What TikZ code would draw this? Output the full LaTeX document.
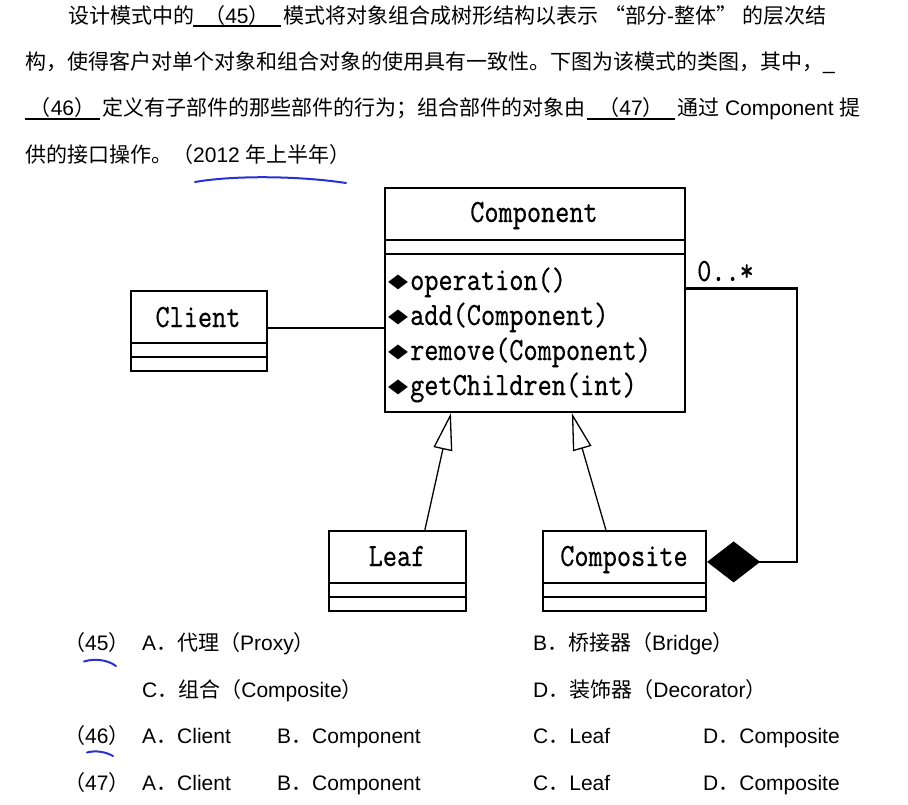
\documentclass[tikz,border=0pt]{standalone}
\usepackage{fontspec}
\setmainfont{Liberation Sans}
\newfontfamily\cjk{Noto Sans CJK SC}
\newfontfamily\diag{lmmono10-regular}[Extension=.otf, FakeStretch=0.83, FakeBold=0.3]
\newfontfamily\dvfont{DejaVu Sans}
\usetikzlibrary{arrows.meta,calc}
\newcommand\zh[1]{{\cjk #1}}
\newcommand\dmd{\makebox[22pt][l]{\raisebox{2.5pt}{\dvfont\fontsize{26}{26}\selectfont\scalebox{1.0}[0.75]{◆}}}}
\definecolor{penblue}{RGB}{40,50,210}
\begin{document}
\begin{tikzpicture}[x=1pt,y=-1pt,
  txt/.style={anchor=base west, inner sep=0pt, font=\fontsize{21}{25}\selectfont},
  ctxt/.style={txt, anchor=base},
  ul/.style={line width=1.4pt},
  cls/.style={draw, line width=2.2pt, inner sep=0pt, minimum width=#1, minimum height=80pt},
  div/.style={line width=2pt},
  uml/.style={anchor=base, inner sep=0pt, font=\diag\fontsize{32.5}{35}\selectfont},
  meth/.style={uml, anchor=base west},
  gen/.style={line width=1.3pt, -{Triangle[open, length=37pt, width=19pt]}},
  assoc/.style={line width=2pt},
  agg/.style={line width=2.2pt, -{Diamond[length=53pt, width=41pt]}},
  penmark/.style={draw=penblue, line width=2pt, line cap=round}
]
\useasboundingbox (0,0) rectangle (908,804);
\fill[white] (0,0) rectangle (908,804);

% ---------- question text ----------
\node[txt] (l1a) at (68,23) {\zh{设计模式中的}};
\node[ctxt] (b45) at (237,23) {\zh{（}45\zh{）}};
\draw[ul] (193,26) -- (281,26);
\node[txt] (l1b) at (283,23) {\zh{模式将对象组合成树形结构以表示} \zh{“部分}-\zh{整体”} \zh{的层次结}};

\node[txt] (l2) at (25,69) {\zh{构，使得客户对单个对象和组合对象的使用具有一致性。下图为该模式的类图，其中，}\_};

\node[ctxt] (b46) at (62.5,115.5) {\zh{（}46\zh{）}};
\draw[ul] (25,119) -- (100,119);
\node[txt] (l3a) at (102,115.5) {\zh{定义有子部件的那些部件的行为；组合部件的对象由}};
\node[ctxt] (b47) at (631,115.5) {\zh{（}47\zh{）}};
\draw[ul] (587,119) -- (675,119);
\node[txt] (l3b) at (677,115.5) {\zh{通过} Component \zh{提}};

\node[txt] (l4) at (25,162) {\zh{供的接口操作。（}2012 \zh{年上半年）}};

% ---------- class diagram ----------
\node[cls=300pt, minimum height=224pt] (comp) at (535,300) {};
\node[cls=136pt] (client) at (199,331) {};
\node[cls=137pt] (leaf) at (397.5,571) {};
\node[cls=163pt] (compo) at (624.5,571) {};

\foreach \n in {comp,client,leaf,compo}{
  \draw[div] ($(\n.north west)+(0,53)$) -- ($(\n.north east)+(0,53)$);
  \draw[div] ($(\n.north west)+(0,67.5)$) -- ($(\n.north east)+(0,67.5)$);
}

\node[uml] (compT) at (534,222) {Component};
\node[uml] (clientT) at (198,327) {Client};
\node[uml] (leafT) at (397,566) {Leaf};
\node[uml] (compoT) at (624,566) {Composite};

\node[meth] (m1) at (388,290) {\dmd operation()};
\node[meth] (m2) at (388,325) {\dmd add(Component)};
\node[meth] (m3) at (388,360) {\dmd remove(Component)};
\node[meth] (m4) at (388,395) {\dmd getChildren(int)};

\node[meth] (mult) at (697,281) {0..*};

% connectors
\path ($(client.north east)+(0,38)$) coordinate (ca);
\draw[assoc] (ca) -- (ca -| comp.west);
\draw[gen] ($(leaf.north west)+(97,0)$) -- ($(comp.south west)+(67,0)$);
\draw[gen] ($(compo.north west)+(64,0)$) -- ($(comp.south west)+(188,0)$);
\path ($(comp.north east)+(0,101.5)$) coordinate (ag1);
\path ($(compo.north east)+(0,32)$) coordinate (ag2);
\draw[agg] (ag1) -- ++(111,0) |- (ag2);

% ---------- options ----------
\node[txt] (p45) at (64,650.5) {\zh{（}45\zh{）}};
\node[txt] (o45a) at (142,650.5) {A\zh{．代理（}Proxy\zh{）}};
\node[txt] (o45b) at (533,650.5) {B\zh{．桥接器（}Bridge\zh{）}};
\node[txt] (o45c) at (142,697) {C\zh{．组合（}Composite\zh{）}};
\node[txt] (o45d) at (533,697) {D\zh{．装饰器（}Decorator\zh{）}};

\node[txt] (p46) at (64,743.5) {\zh{（}46\zh{）}};
\node[txt] (o46a) at (142,743.5) {A\zh{．}Client};
\node[txt] (o46b) at (277,743.5) {B\zh{．}Component};
\node[txt] (o46c) at (533,743.5) {C\zh{．}Leaf};
\node[txt] (o46d) at (703,743.5) {D\zh{．}Composite};

\node[txt] (p47) at (64,790) {\zh{（}47\zh{）}};
\node[txt] (o47a) at (142,790) {A\zh{．}Client};
\node[txt] (o47b) at (277,790) {B\zh{．}Component};
\node[txt] (o47c) at (533,790) {C\zh{．}Leaf};
\node[txt] (o47d) at (703,790) {D\zh{．}Composite};

% ---------- handwritten pen marks ----------
\draw[penmark] (195,182) .. controls (235,175) and (300,176) .. (346,183);
\draw[penmark] (84,661.5) .. controls (95,658) and (108,660) .. (116,666);
\draw[penmark] (87,752.5) .. controls (96,750) and (106,752) .. (113,756);
\end{tikzpicture}
\end{document}
